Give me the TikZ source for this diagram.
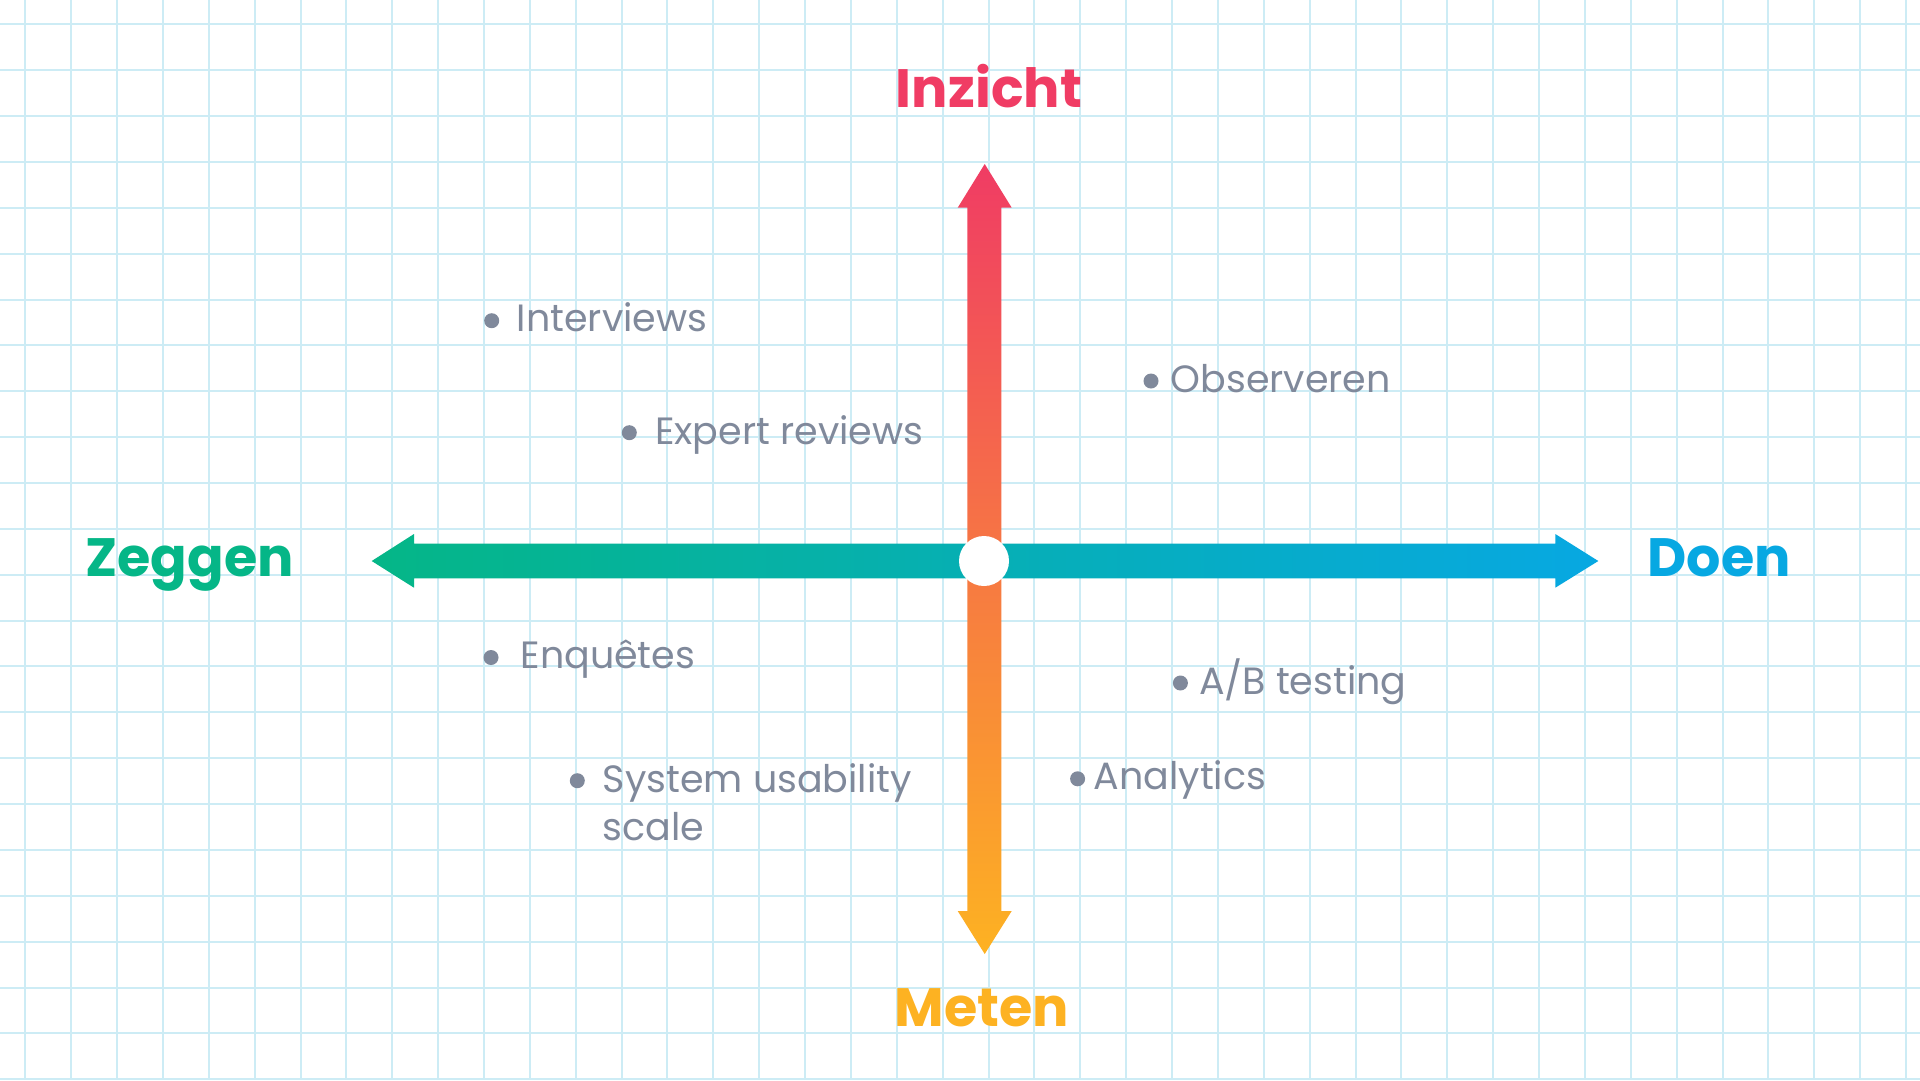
\documentclass[tikz,border=0pt]{standalone}
\usepackage{fontspec}
\setmainfont{Poppins}
\usetikzlibrary{calc}
\definecolor{gridc}{RGB}{205,236,245}
\definecolor{itemc}{RGB}{128,137,155}
\definecolor{redc}{RGB}{240,60,100}
\definecolor{orangec}{RGB}{253,178,34}
\definecolor{greenc}{RGB}{5,182,135}
\definecolor{bluec}{RGB}{7,168,226}
\tikzset{
  head/.style={inner sep=0pt, anchor=base, font=\fontsize{54}{60}\selectfont\bfseries},
  item/.style={inner sep=0pt, anchor=base west, text=itemc, font=\fontsize{38}{48}\selectfont, align=left},
  bul/.style={circle, fill=itemc, inner sep=0pt, minimum size=15pt},
}
\begin{document}
\begin{tikzpicture}[x=1pt,y=-1pt]
\useasboundingbox (0,0) rectangle (1920,1080);
\fill[white] (0,0) rectangle (1920,1080);
% grid
\foreach \i in {0,...,41} {
  \draw[gridc, line width=2pt] ({25.3+45.87*\i},0) -- ({25.3+45.87*\i},1080);
}
\foreach \j in {0,...,23} {
  \draw[gridc, line width=2pt] (0,{24.3+45.87*\j}) -- (1920,{24.3+45.87*\j});
}
% vertical arrow
\shade[top color=redc, bottom color=orangec]
  (984.7,164) -- (1011.7,207.7) -- (1001.3,207.7) -- (1001.3,911) -- (1011.7,911)
  -- (984.7,954) -- (957.7,911) -- (967.3,911) -- (967.3,207.7) -- (957.7,207.7) -- cycle;
% horizontal arrow
\shade[left color=greenc, right color=bluec]
  (371.7,561) -- (414,534) -- (414,543.5) -- (1555.3,543.5) -- (1555.3,534)
  -- (1598.3,561) -- (1555.3,587.7) -- (1555.3,578.3) -- (414,578.3) -- (414,587.7) -- cycle;
\node[circle, fill=white, inner sep=0pt, minimum size=50pt] (center) at (984,561) {};
% headings
\node[head, text=redc] (inzicht) at (989,107.3) {Inzicht};
\node[head, text=greenc] (zeggen) at (189.5,576.7) {Zeggen};
\node[head, text=bluec] (doen) at (1719,576.7) {Doen};
\node[head, text=orangec] (meten) at (982,1026.7) {Meten};
% items
\node[bul] (b1) at (491.7,320.7) {};
\node[item] (t1) at (516.7,331.7) {Interviews};
\node[bul] (b2) at (629.3,432.7) {};
\node[item] (t2) at (655,444) {Expert reviews};
\node[bul] (b3) at (1151,381) {};
\node[item] (t3) at (1170.6,392) {Observeren};
\node[bul] (b4) at (491,657.5) {};
\node[item] (t4) at (520.4,668.5) {Enquêtes};
\node[bul] (b5) at (1180.4,683) {};
\node[item] (t5) at (1198.8,694) {A/B testing};
\node[bul] (b6) at (1077.6,778.8) {};
\node[item] (t6) at (1093.5,789.8) {Analytics};
\node[bul] (b7) at (577.3,780.7) {};
\node[item] (t7) at (602.7,840.7) {System usability\\scale};
\end{tikzpicture}
\end{document}
